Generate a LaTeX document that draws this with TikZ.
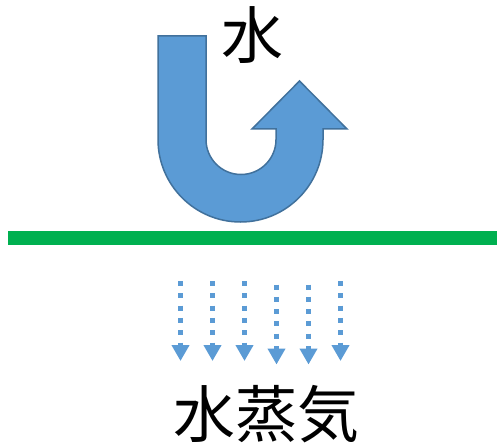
\documentclass[tikz,border=0pt]{standalone}
\usepackage{fontspec}
\newfontfamily\cjk{Noto Sans CJK JP}
\usetikzlibrary{arrows.meta}
\definecolor{ublue}{HTML}{5B9BD5}
\definecolor{uedge}{HTML}{41719C}
\definecolor{ugreen}{HTML}{00B050}
\begin{document}
\begin{tikzpicture}[x=1pt,y=-1pt,
  uturn/.style={fill=ublue,draw=uedge,line width=1.5pt,line join=miter},
  vapor/.style={draw=ublue,line width=5pt,dash pattern=on 5pt off 7.3pt,
    -{Triangle[width=17pt,length=16pt]}},
  lbl/.style={inner sep=0pt,anchor=base,font=\cjk\fontsize{62}{62}\selectfont}]
\useasboundingbox (0,0) rectangle (497,446);
\fill[white] (0,0) rectangle (497,446);
% U-turn arrow
\path[uturn] (158,36) -- (206,36) -- (206,139.5)
  arc[start angle=180,end angle=0,radius=35] -- (276,129) -- (252,129)
  -- (299.5,81) -- (347,129) -- (323,129) -- (323,139.5)
  arc[start angle=0,end angle=180,radius=82.5] -- cycle;
\node[lbl] (water) at (252.5,59) {水};
% surface
\fill[ugreen] (8,231) rectangle (497,245);
% vapour arrows
\foreach \x/\s in {180.5/281,212.5/281,244.5/281,276.5/284.5,308.5/284.5,340.5/281}{
  \coordinate (s) at (\x,\s);
  \coordinate (e) at (\x,\s+80);
  \draw[vapor] (s) -- (e);
}
\node[lbl] (vapour) at (266,437) {水蒸気};
\end{tikzpicture}
\end{document}
